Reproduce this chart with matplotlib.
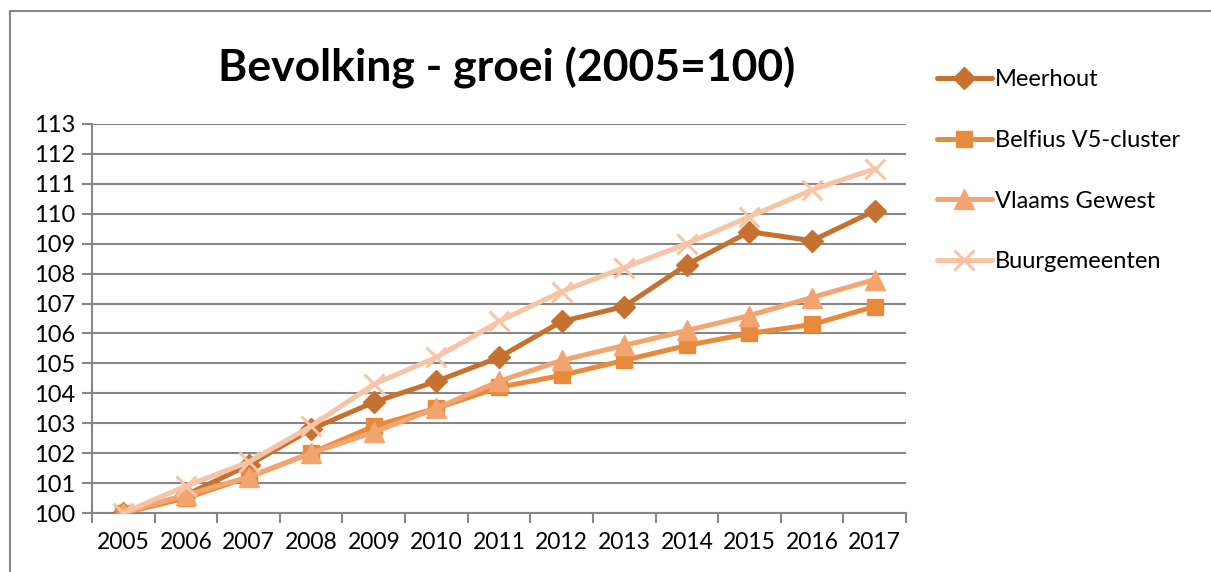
#!/usr/bin/env python3
"""
Bevolking - groei (2005=100): line chart in Excel style.
"""

import matplotlib
matplotlib.use("Agg")
import matplotlib.pyplot as plt
from matplotlib.lines import Line2D


YEARS = ["2005", "2006", "2007", "2008", "2009", "2010", "2011",
         "2012", "2013", "2014", "2015", "2016", "2017"]

MEERHOUT = [100.0, 100.6, 101.6, 102.8, 103.7, 104.4, 105.2,
            106.4, 106.9, 108.3, 109.4, 109.1, 110.1]
BELFIUS = [100.0, 100.5, 101.2, 102.0, 102.9, 103.5, 104.2,
           104.6, 105.1, 105.6, 106.0, 106.3, 106.9]
VLAAMS = [100.0, 100.6, 101.2, 102.0, 102.7, 103.5, 104.4,
          105.1, 105.6, 106.1, 106.6, 107.2, 107.8]
BUUR = [100.0, 100.9, 101.7, 102.9, 104.3, 105.2, 106.4,
        107.4, 108.2, 109.0, 109.9, 110.8, 111.5]

Y_TICKS = list(range(100, 114))

SERIES = [
    ("Meerhout", MEERHOUT, "#C5712F", "D", 11),
    ("Belfius V5-cluster", BELFIUS, "#E88A3C", "s", 12),
    ("Vlaams Gewest", VLAAMS, "#F3A56F", "^", 14),
    ("Buurgemeenten", BUUR, "#F7C4A6", "x", 15),
]

GRID_COLOR = "#878787"
FONT = "Lato"


def main():
    plt.rcParams["font.family"] = FONT
    fig = plt.figure(figsize=(12.11, 5.72), dpi=100)
    ax = fig.add_axes([92 / 1211, 59 / 572, 814 / 1211, 389 / 572])

    x = list(range(len(YEARS)))
    handles = []
    for name, values, color, marker, ms in SERIES:
        kw = dict(markeredgewidth=2.2) if marker == "x" else dict(markeredgecolor=color)
        (h,) = ax.plot(x, values, color=color, linewidth=3.6, marker=marker,
                       markersize=ms, markerfacecolor=color, label=name,
                       solid_capstyle="round", zorder=3, **kw)
        handles.append(h)

    ax.set_xlim(-0.5, len(YEARS) - 0.5)
    ax.set_ylim(100, 113)
    ax.set_yticks(Y_TICKS)
    ax.set_yticklabels([str(v) for v in Y_TICKS], fontsize=17)

    # category ticks between years, labels centered on years
    ax.set_xticks([i - 0.5 for i in range(len(YEARS) + 1)])
    ax.set_xticklabels([])
    ax.set_xticks(x, minor=True)
    ax.set_xticklabels(YEARS, minor=True, fontsize=16.5)
    ax.tick_params(axis="x", which="minor", length=0, pad=14)
    ax.tick_params(axis="x", which="major", length=7, width=1.5, color=GRID_COLOR)
    ax.tick_params(axis="y", length=7, width=1.5, color=GRID_COLOR, pad=5)

    ax.grid(axis="y", color=GRID_COLOR, linewidth=1.5, zorder=0)
    for side in ["top", "right"]:
        ax.spines[side].set_visible(False)
    for side in ["left", "bottom"]:
        ax.spines[side].set_color(GRID_COLOR)
        ax.spines[side].set_linewidth(1.5)
    ax.set_axisbelow(True)

    fig.text(507 / 1211, 1 - 68 / 572, "Bevolking - groei (2005=100)",
             ha="center", va="center", fontsize=32, fontweight="bold")

    fig.legend(handles=handles, loc="upper left",
               bbox_to_anchor=(916 / 1211, 1 - 48 / 572), frameon=False,
               fontsize=17, handlelength=2.3, labelspacing=1.68,
               handletextpad=0.15)

    # outer chart frame (left and top edges visible)
    fig.add_artist(Line2D([10 / 1211, 10 / 1211], [0, 1 - 11 / 572],
                          transform=fig.transFigure, color=GRID_COLOR, lw=1.5))
    fig.add_artist(Line2D([10 / 1211, 1], [1 - 11 / 572, 1 - 11 / 572],
                          transform=fig.transFigure, color=GRID_COLOR, lw=1.5))

    fig.savefig("out.png", dpi=100)


if __name__ == "__main__":
    main()
